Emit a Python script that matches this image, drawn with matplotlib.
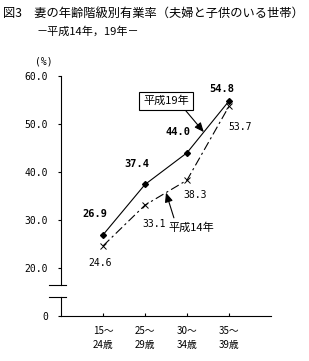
import matplotlib
matplotlib.use("Agg")
import matplotlib.pyplot as plt

plt.rcParams['font.family'] = ['Noto Sans CJK JP', 'DejaVu Sans']

ages = ["15～\n24歳", "25～\n29歳", "30～\n34歳", "35～\n39歳"]
h19 = [26.9, 37.4, 44.0, 54.8]
h14 = [24.6, 33.1, 38.3, 53.7]
yticks = [10, 20, 30, 40, 50, 60]
ytick_labels = ["0", "20.0", "30.0", "40.0", "50.0", "60.0"]

# label offsets in pixels (dx, dy)
off19 = [(-8, 21), (-8, 20), (-9, 21), (-7, 12)]
off14 = [(-3, -17), (9, -19), (8, -15), (11, -21)]

mono = ['DejaVu Sans Mono', 'Noto Sans CJK JP']

fig = plt.figure(figsize=(3.09, 3.61), dpi=100)
ax = fig.add_axes([61 / 309, 45 / 361, 210 / 309, 240 / 361])

x = list(range(1, len(ages) + 1))
ax.plot(x, h19, color='black', lw=0.8, marker='D', ms=3, mfc='black', mec='black')
ax.plot(x, h14, color='black', lw=0.8, dashes=(8, 3, 2, 3), marker='x', ms=5, mew=0.7)

for xi, v, (dx, dy) in zip(x, h19, off19):
    ax.annotate(f"{v:.1f}", (xi, v), xytext=(dx, dy), textcoords='offset pixels',
                ha='center', va='center', fontsize=7.5, fontweight='bold', family=mono)
for xi, v, (dx, dy) in zip(x, h14, off14):
    ax.annotate(f"{v:.1f}", (xi, v), xytext=(dx, dy), textcoords='offset pixels',
                ha='center', va='center', fontsize=7, family=mono)

# series callouts, arrow tips on the lines
t19 = 0.4
tip19 = (3 + t19, h19[2] + t19 * (h19[3] - h19[2]))
ax.annotate("平成19年", tip19, xytext=(2.5, 54.8), ha='center', va='center', fontsize=8,
            bbox=dict(boxstyle='square,pad=0.35', fc='white', ec='black', lw=0.8),
            arrowprops=dict(arrowstyle='-|>,head_length=0.7,head_width=0.3', color='black',
                            lw=0.8, relpos=(0.85, 0.0), shrinkA=0, shrinkB=0))
t14 = 0.5
tip14 = (2 + t14, h14[1] + t14 * (h14[2] - h14[1]))
ax.annotate("平成14年", tip14, xytext=(3.1, 28.5), ha='center', va='center', fontsize=8,
            arrowprops=dict(arrowstyle='-|>,head_length=0.7,head_width=0.3', color='black',
                            lw=0.8, relpos=(0.15, 1.0), shrinkA=1, shrinkB=0))

ax.set_xlim(0, 5)
ax.set_ylim(10, 60)
ax.set_xticks(x)
ax.set_xticklabels(ages, fontsize=7, linespacing=1.55)
ax.set_yticks(yticks)
ax.set_yticklabels(ytick_labels, fontsize=7, family=mono)
ax.tick_params(axis='x', direction='in', length=2.5, width=0.8, pad=7)
ax.tick_params(axis='y', direction='out', length=2.5, width=0.8, pad=7)

for s in ['top', 'right']:
    ax.spines[s].set_visible(False)
ax.spines['bottom'].set_linewidth(0.8)
ax.spines['left'].set_linewidth(0.8)

# broken y axis
brk_hi, brk_lo = 16.5, 14.0
ax.spines['left'].set_bounds(brk_hi, 60)
ax.plot([0, 0], [10, brk_lo], color='black', lw=0.8, clip_on=False)
for yb in (brk_hi, brk_lo):
    ax.plot([-0.29, 0.12], [yb, yb], color='black', lw=0.8, clip_on=False)

fig.text(44 / 309, 1 - 61 / 361, "(%)", ha='center', va='center', fontsize=7, family=mono)
fig.text(3 / 309, 1 - 13 / 361, "図3　妻の年齢階級別有業率（夫婦と子供のいる世帯）",
         ha='left', va='center', fontsize=8.8)
fig.text(37 / 309, 1 - 32 / 361, "－平成14年，19年－", ha='left', va='center', fontsize=8.0)

fig.savefig("out.png", dpi=100)
